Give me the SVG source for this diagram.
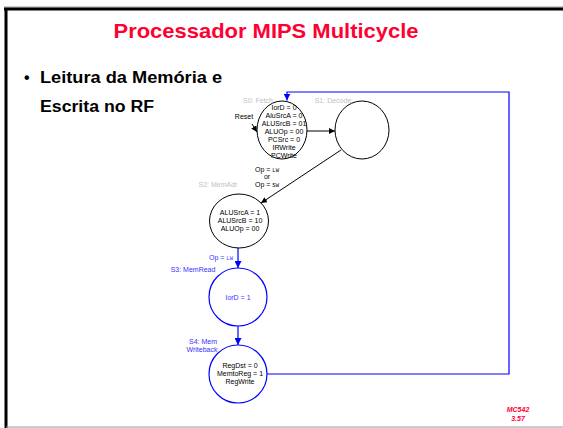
<svg xmlns="http://www.w3.org/2000/svg" width="563" height="428" viewBox="0 0 563 428">
<defs>
<style>
.title{font-family:"Liberation Sans",Arial,sans-serif;font-weight:bold;fill:#ff0033;}
.bul{font-family:"Liberation Sans",Arial,sans-serif;font-weight:bold;fill:#000;font-size:16px;}
.t{font-family:"Liberation Sans",Arial,sans-serif;font-size:7px;fill:#000;text-anchor:middle;}
.g{font-family:"Liberation Sans",Arial,sans-serif;font-size:7px;fill:#c0c0c0;text-anchor:middle;}
.b{font-family:"Liberation Sans",Arial,sans-serif;font-size:7px;fill:#3333ff;text-anchor:middle;}
.m{font-family:"Liberation Mono","Courier New",monospace;font-size:5.5px;}
.ck{fill:#fff;stroke:#000;stroke-width:1;}
.cb{fill:#fff;stroke:#0000ff;stroke-width:1.2;}
.lk{fill:none;stroke:#000;stroke-width:1;}
.lb{fill:none;stroke:#0000ff;stroke-width:1.2;}
.mc{font-family:"Liberation Sans",Arial,sans-serif;font-weight:bold;font-style:italic;font-size:7px;fill:#ff0033;text-anchor:middle;}
</style>
<marker id="ak" viewBox="0 0 10 10" refX="10" refY="5" markerWidth="6" markerHeight="6" orient="auto" markerUnits="userSpaceOnUse"><path d="M0,0 L10,5 L0,10 z" fill="#000"/></marker>
<marker id="ab" viewBox="0 0 10 10" refX="10" refY="5" markerWidth="7" markerHeight="7" orient="auto" markerUnits="userSpaceOnUse"><path d="M0,0 L10,5 L0,10 z" fill="#0000ff"/></marker>
</defs>
<rect x="0" y="0" width="563" height="428" fill="#fff"/>
<!-- slide frame -->
<line x1="4" y1="7" x2="563" y2="7" stroke="#999" stroke-width="1"/>
<line x1="4" y1="9" x2="563" y2="9" stroke="#000" stroke-width="3"/>
<line x1="6" y1="8" x2="6" y2="428" stroke="#000" stroke-width="3"/>
<line x1="6" y1="427" x2="563" y2="427" stroke="#999" stroke-width="1"/>

<text class="title" x="266" y="38" font-size="21" text-anchor="middle" textLength="305" lengthAdjust="spacingAndGlyphs">Processador MIPS Multicycle</text>
<text class="bul" x="24" y="83">•</text>
<text class="bul" x="40" y="83" textLength="182" lengthAdjust="spacingAndGlyphs">Leitura da Memória e</text>
<text class="bul" x="40" y="112" textLength="114" lengthAdjust="spacingAndGlyphs">Escrita no RF</text>

<g id="connectors">
<line class="lk" x1="252" y1="124" x2="257" y2="132" marker-end="url(#ak)"/>
<line class="lk" x1="306" y1="131" x2="335" y2="131" marker-end="url(#ak)"/>
<line class="lk" x1="341" y1="150" x2="261" y2="203" marker-end="url(#ak)"/>
<line class="lb" x1="238" y1="248" x2="238" y2="268" marker-end="url(#ab)"/>
<line class="lb" x1="238" y1="326" x2="238" y2="345" marker-end="url(#ab)"/>
<path class="lb" d="M267,374 H509 V92 H287 V100.5" marker-end="url(#ab)"/>
<text class="t" x="244" y="118.5" style="text-anchor:middle">Reset</text>
<text class="t" x="267" y="171.5">Op = <tspan class="m">LW</tspan></text>
<text class="t" x="267" y="179">or</text>
<text class="t" x="267" y="186.5">Op = <tspan class="m">SW</tspan></text>
<text class="b" x="221" y="260">Op = <tspan class="m">LW</tspan></text>
</g>

<g id="S0">
<ellipse class="ck" cx="282" cy="130" rx="25" ry="29"/>
<text class="g" x="258" y="103">S0: Fetch</text>
<text class="t" x="284" y="109.5">IorD = 0</text>
<text class="t" x="284" y="117.5">AluSrcA = 0</text>
<text class="t" x="284" y="125.5">ALUSrcB = 01</text>
<text class="t" x="284" y="133.5">ALUOp = 00</text>
<text class="t" x="284" y="141.5">PCSrc = 0</text>
<text class="t" x="284" y="149.5">IRWrite</text>
<text class="t" x="284" y="157.5">PCWrite</text>
</g>

<g id="S1">
<ellipse class="ck" cx="362" cy="130" rx="27" ry="29"/>
<text class="g" x="333" y="103">S1: Decode</text>
</g>

<g id="S2">
<ellipse class="ck" cx="239" cy="221" rx="29.5" ry="27"/>
<text class="g" x="218" y="187">S2: MemAdr</text>
<text class="t" x="240" y="214.5">ALUSrcA = 1</text>
<text class="t" x="240" y="222.5">ALUSrcB = 10</text>
<text class="t" x="240" y="230.5">ALUOp = 00</text>
</g>

<g id="S3">
<ellipse class="cb" cx="238" cy="297" rx="29" ry="29"/>
<text class="b" x="193" y="272">S3: MemRead</text>
<text class="b" x="238" y="299.5">IorD = 1</text>
</g>

<g id="S4">
<ellipse class="cb" cx="238" cy="374" rx="29" ry="29"/>
<text class="b" x="203" y="344">S4: Mem</text>
<text class="b" x="202" y="352">Writeback</text>
<text class="t" x="240" y="368">RegDst = 0</text>
<text class="t" x="240" y="376">MemtoReg = 1</text>
<text class="t" x="240" y="384">RegWrite</text>
</g>

<text class="mc" x="518" y="412">MC542</text>
<text class="mc" x="518" y="421">3.57</text>
</svg>
